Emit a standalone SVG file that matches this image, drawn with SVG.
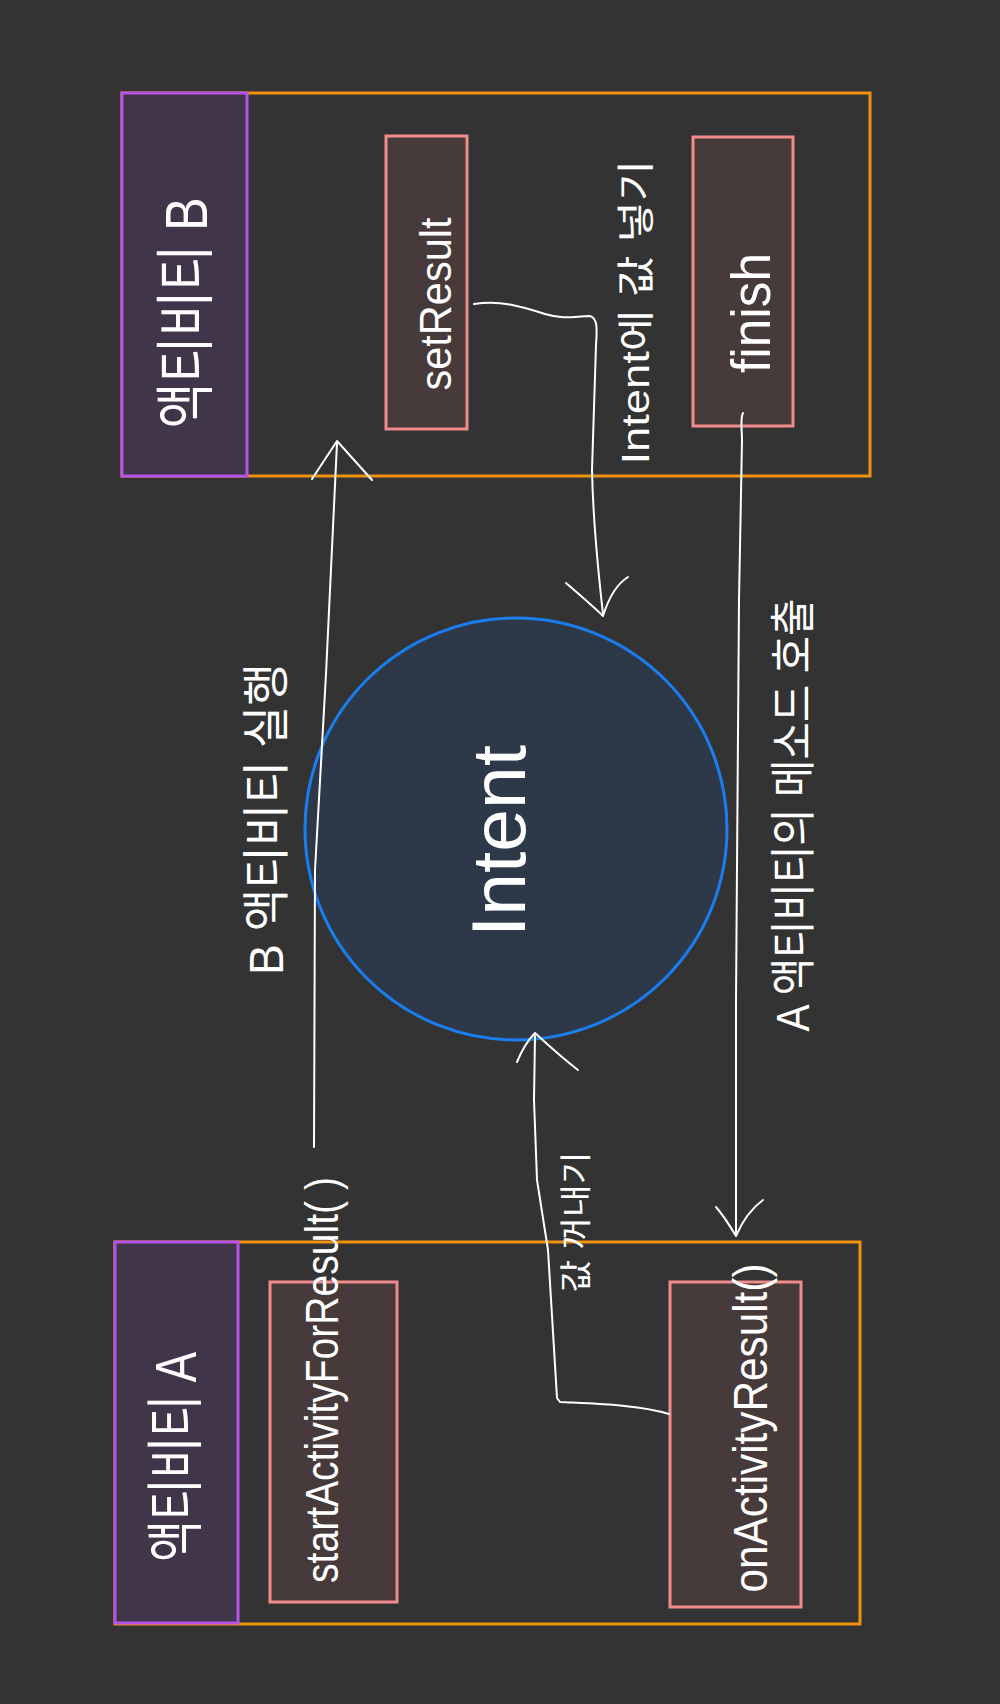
<svg xmlns="http://www.w3.org/2000/svg" width="1000" height="1704" viewBox="0 0 1000 1704">
<defs>
<style>
.bg{fill:#333333}
.cont{fill:none;stroke:#f0920f;stroke-width:3}
.hdr{fill:#41354a;stroke:#b553ea;stroke-width:3}
.fn{fill:#473a3b;stroke:#f28b8b;stroke-width:3}
.intent{fill:#2d3948;stroke:#1a7ef0;stroke-width:3}
.t{fill:#ffffff;font-family:"Liberation Sans","Noto Sans CJK KR",sans-serif;text-anchor:middle;dominant-baseline:central}
.ln{fill:none;stroke:#ffffff;stroke-width:2;stroke-linecap:round;stroke-linejoin:round}
</style>
</defs>
<rect class="bg" x="0" y="0" width="1000" height="1704"/>

<g id="activity-b">
<rect class="cont" x="122" y="93" width="748" height="383"/>
<rect class="hdr" x="122" y="93" width="125" height="383"/>
<text class="t" transform="translate(186,313) rotate(-90)" font-size="60" textLength="231" lengthAdjust="spacingAndGlyphs">액티비티 B</text>
</g>

<g id="setResult">
<rect class="fn" x="386" y="136" width="81" height="293"/>
<text class="t" transform="translate(435,304) rotate(-90)" font-size="44" textLength="173" lengthAdjust="spacingAndGlyphs">setResult</text>
</g>

<g id="finish">
<rect class="fn" x="693" y="137" width="100" height="289"/>
<text class="t" transform="translate(750,313) rotate(-90)" font-size="56" textLength="120" lengthAdjust="spacingAndGlyphs">finish</text>
</g>

<g id="intent">
<circle class="intent" cx="516" cy="829" r="211"/>
<text class="t" transform="translate(498,841) rotate(-90)" font-size="76" textLength="192" lengthAdjust="spacingAndGlyphs">Intent</text>
</g>

<g id="activity-a">
<rect class="cont" x="115" y="1242" width="745" height="382"/>
<rect class="hdr" x="115" y="1242" width="123" height="381"/>
<text class="t" transform="translate(175,1457) rotate(-90)" font-size="58" textLength="210" lengthAdjust="spacingAndGlyphs">액티비티 A</text>
</g>

<g id="startActivityForResult">
<rect class="fn" x="270" y="1282" width="127" height="320"/>
<text class="t" transform="translate(322,1380) rotate(-90)" font-size="46" textLength="406" lengthAdjust="spacingAndGlyphs">startActivityForResult( )</text>
</g>

<g id="onActivityResult">
<rect class="fn" x="670" y="1282" width="131" height="325"/>
<text class="t" transform="translate(750,1428) rotate(-90)" font-size="48" textLength="329" lengthAdjust="spacingAndGlyphs">onActivityResult()</text>
</g>

<g id="connectors">
<path class="ln" d="M314,1147 L315,870 L326,674 L337,443"/>
<path class="ln" d="M312,479 L337,441 L372,480"/>
<path class="ln" d="M474,304 C500,300 520,306 545,314 C565,320 575,316 590,316 C598,318 597,330 596,345 L592,470 C593,520 598,570 603,614"/>
<path class="ln" d="M566,583 C580,595 595,608 603,616 C608,600 615,585 628,577"/>
<path class="ln" d="M743,413 C740,418 742,430 742,440 L739,600 L736,1000 L736,1234"/>
<path class="ln" d="M716,1207 C724,1216 730,1226 736,1236 C742,1222 752,1208 763,1200"/>
<path class="ln" d="M669,1414 C640,1405 600,1404 560,1402 L557,1398 L548,1250 L537,1180 L534,1100 L535,1036"/>
<path class="ln" d="M517,1062 C522,1050 528,1040 535,1033 C548,1045 565,1060 578,1070"/>
<text class="t" transform="translate(636,312) rotate(-90)" font-size="38" textLength="305" lengthAdjust="spacingAndGlyphs">Intent에 값 넣기</text>
<text class="t" transform="translate(266,819) rotate(-90)" font-size="48" textLength="312" lengthAdjust="spacingAndGlyphs">B 액티비티 실행</text>
<text class="t" transform="translate(793,815) rotate(-90)" font-size="46" textLength="433" lengthAdjust="spacingAndGlyphs">A 액티비티의 메소드 호출</text>
<text class="t" transform="translate(576,1222) rotate(-90)" font-size="32" textLength="141" lengthAdjust="spacingAndGlyphs">값 꺼내기</text>
</g>
</svg>
